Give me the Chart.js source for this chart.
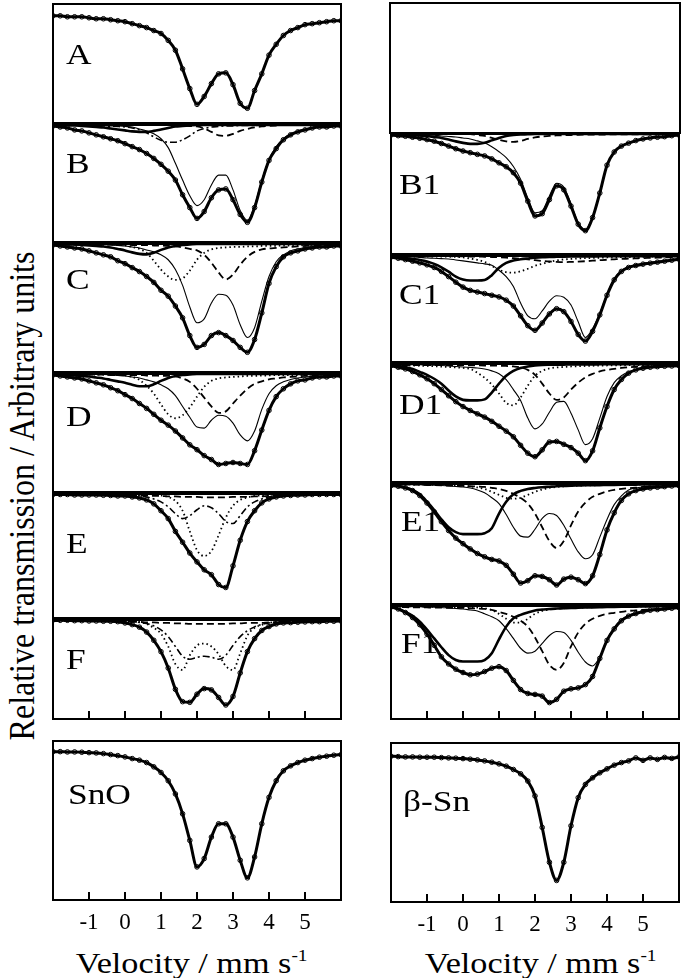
<!DOCTYPE html>
<html>
<head>
<meta charset="utf-8">
<title>Mossbauer spectra</title>
<script src="https://cdn.jsdelivr.net/npm/chart.js@4.4.1/dist/chart.umd.min.js"></script>
<style>
  html, body { margin: 0; padding: 0; background: #fff; }
  body { position: relative; width: 685px; height: 978px; overflow: hidden; font-family: "Liberation Serif", "Times New Roman", serif; color: #000; }
  canvas { position: absolute; }
  .ytitle { position: absolute; left: 22px; top: 496px; white-space: nowrap; font-size: 32px; line-height: 1; transform: translate(-50%, -50%) rotate(-90deg) scaleY(1.12); }
  .xtitle { position: absolute; top: 941px; width: 300px; text-align: center; white-space: nowrap; font-size: 30px; line-height: 30px; }
  .xtitle span { display: inline-block; transform: scaleX(1.14); }
  .xtitle sup { font-size: 17px; vertical-align: 12px; }
</style>
</head>
<body>
<div class="ytitle">Relative transmission / Arbitrary units</div>
<div class="xtitle" style="left:42px"><span>Velocity / mm s<sup>-1</sup></span></div>
<div class="xtitle" style="left:391px"><span>Velocity / mm s<sup>-1</sup></span></div>
<script>
// velocity grid, mm/s
const velocity = [-2.0,-1.8,-1.6,-1.4,-1.2,-1.0,-0.8,-0.6,-0.4,-0.2,0.0,0.2,0.4,0.6,0.8,1.0,1.2,1.4,1.6,1.8,2.0,2.2,2.4,2.6,2.8,3.0,3.2,3.4,3.6,3.8,4.0,4.2,4.4,4.6,4.8,5.0,5.2,5.4,5.6,5.8,6.0];
const tickValues = [-1, 0, 1, 2, 3, 4, 5];

// absorption (arbitrary units, 0 = baseline)
const A_total = [12,12,13,13,13,14,15,15,16,17,18,20,22,24,27,30,37,47,66,86,102,94,81,71,70,82,101,106,88,71,52,41,32,27,24,21,20,19,18,17,17];

const B_total = [1,2,3,5,6,8,10,12,14,16,19,22,25,29,34,40,47,56,71,84,95,88,74,66,65,76,91,99,84,58,36,24,15,10,7,5,3,2,2,1,1];
const B_thin = [0,0,0,0,0,0.5,0.5,0.5,1,1,1.5,2,4,6,9,14,23,39,56,72,82,76,61,51,51,66,87,97,82,56,35,22,14,9,6,4,3,2,1.5,1,1];
const B_bold = [0,0,0.5,0.5,1,1.5,2,2.5,3.5,4.5,5.5,6.5,7,7,6,4.5,3,1.5,1,0.5,0,0,0,0,0,0,0,0,0,0,0,0,0,0,0,0,0,0,0,0,0];
const B_dashdot = [0,0,0.3,0.3,0.5,0.5,0.7,1,1.2,1.5,2,3,5,8,12,15.5,17.5,17.5,15,11,6,3.5,2,1.5,1,1,0.5,0.5,0.5,0,0,0,0,0,0,0,0,0,0,0,0];
const B_dashed = [0,0,0,0,0,0,0,0,0,0,0,0,0,0,0,0,0,0,0.5,1,1.5,3.5,7,10.5,11,9,6,4,2.5,1.5,1,0.5,0,0,0,0,0,0,0,0,0];

const C_total = [1,2,3,4,5,7,9,11,13,17,20,24,28,33,39,47,53,63,75,93,105,102,93,90,93,98,105,110,97,70,40,23,13,9,7,5,4,3,3,2,2];
const C_thin = [0,0,0,0,0,0.5,0.5,0.5,1,1.5,2,3,4,6,8,11,16,26,42,64,80,76,60,51,52,62,82,95,85,58,33,18,11,7,5,3.5,2.5,2,1.5,1,1];
const C_bold = [0,0,0.5,0.5,1,1.5,2,2.5,3.5,5,6.5,8.5,10,10.5,9,6,3.5,2,1,0.5,0,0,0,0,0,0,0,0,0,0,0,0,0,0,0,0,0,0,0,0,0];
const C_dotted = [0.5,0.5,0.5,0.5,0.5,0.5,0.5,0.5,0.5,1,1.5,3,5,9,17,26,33,36.5,35,27,16,9,5.5,4,3.5,3,3,2.5,2.5,2,2,2,1.5,1.5,1.5,1,1,1,0.5,0.5,0.5];
const C_dashed = [0.5,0.5,0.5,0.5,0.5,0.5,0.5,0.5,0.5,0.5,0.5,1,1,1,1.5,1.5,2,2.5,3.5,5,6.5,11,19,29,36,31,21,13,8,5.5,4.5,4,3.5,3,2.5,2,2,1.5,1.5,1,1];

const D_total = [1,2,3,4,5,7,9,11,14,17,21,25,30,35,41,47,52,58,65,72,77,83,87,92,91,90,91,92,78,57,37,23,15,10,7,6,4,3,3,2,2];
const D_thin = [0,0,0,0,0.5,0.5,0.5,0.5,1,1.5,2,3,4,6,8,11,15,22,33,44,54,55,47,42,43,50,62,68,58,36,20,12,8,5.5,4,3,2.5,2,1.5,1,1];
const D_bold = [0.5,0.5,1,1.5,2,2.5,3.5,4.5,6,7.5,9,11,12.5,12.5,10.5,7,4,2,1,0.5,0,0,0,0,0,0,0,0,0,0,0,0,0,0,0,0,0,0,0,0,0];
const D_dotted = [0.5,0.5,0.5,0.5,0.5,0.5,0.5,0.5,0.5,1,1.5,3,6,12,20,31,41,45,42,34,23,13,7,4.5,3.5,3,2.5,2,2,1.5,1.5,1,1,1,1,0.5,0.5,0.5,0.5,0.5,0.5];
const D_dashed = [0.5,0.5,0.5,0.5,0.5,0.5,0.5,0.5,1,1,1,1,1,1.5,1.5,2,2,2.5,4.5,8,15,24,33,39.5,38,30,22,15,10,7.5,5.5,4.5,3.5,3,2.5,2,2,1.5,1.5,1,1];

const E_total = [0.5,0.5,0.5,1,1,1,1,1.3,1.5,2,2,3,4,6,10,17,25,38,49,60,69,77,82,92,95,73,47,28,17,9,5,3,2,1.5,1,1,0.5,0.5,0.5,0.5,0.5];
const E_dashdot = [0.5,0.5,0.5,0.5,0.5,0.5,0.5,0.5,0.5,0.5,0.5,1,2,3,5,8,13,20,25,22,16,12,14,20,28,30,22,13,8,5,3,2,1.5,1,1,0.8,0.5,0.5,0.5,0.3,0.3];
const E_dotted = [0,0,0,0,0,0,0,0,0,0,0,0,0,0,1,1.5,3,7,17,38,57,63,58,42,24,12,6,3.5,2,1.5,1,0.5,0.5,0,0,0,0,0,0,0,0];
const E_dashed = [1,1,1,1,1,1,1,1,1,1,1,1.5,1.5,1.5,2,2,2.5,2.5,3,3,3,3.5,3.5,3.5,3.5,3,3,3,2.5,2.5,2,2,2,1.5,1.5,1,1,1,1,0.5,0.5];

const F_total = [0,0.3,0.3,0.7,0.7,1,1,1.3,1.3,1.7,3,4.7,7.3,12.3,20.7,32.3,49,70.7,83.3,84,75.7,70,71.3,79,86.7,78,54,32.3,19,10.7,6.7,4,3,2.7,2.3,2,1.7,1.7,1.3,1.3,1];
const F_dotted = [0.5,0.5,0.5,0.5,0.5,0.5,0.5,0.5,0.5,0.5,0.5,1,2,4,8,14,27,45,51,36,26,24,27,35,47,51,34,16,8,5,3,2,1.5,1,1,0.7,0.5,0.5,0.3,0.3,0.3];
const F_dashdot = [0.5,0.5,0.5,0.5,0.5,0.5,0.5,0.5,0.5,0.5,1,1.5,2.5,3.5,6,10,17,27,37,40,38,37,38,40,36,26,17,11,7,4.5,3,2,1.5,1,1,0.7,0.5,0.5,0.5,0.3,0.3];
const F_dashed = [1,1,1,1,1,1,1.5,1.5,1.5,1.5,2,2,2,2.5,2.5,3,3,3.5,3.5,4,4,4,4,4,4,3.5,3.5,3,3,3,2.5,2.5,2,2,2,1.5,1.5,1.5,1,1,1];

const B1_total = [1,1.7,2.3,3.3,4.3,5.7,7.3,9.7,12.3,15,17.3,19,20.7,22.3,25.3,29.3,33.3,39.3,50,68.3,83.3,81,66.7,52.7,56.7,73.3,91.7,98.3,85,60,31.7,18.3,12.3,9.3,6.7,5,4,3.3,2.7,1.7,1];
const B1_thin = [0,0.3,0.5,0.7,0.8,1,1.3,2,2.5,3,4,5,7,9,13,18,24,33,46,65,80,78,63,50,54,71,90,97,84,59,31,18,12,9,6.5,5,4,3,2,1.5,1];
const B1_bold = [0.5,0.7,1,1,1.5,2,3,4,5.5,7.5,9,10,10,9,6.5,4,2,1,0.5,0.3,0,0,0,0,0,0,0,0,0,0,0,0,0,0,0,0,0,0,0,0,0];
const B1_dashed = [0,0,0,0,0,0,0,0,0,0,0,0,1,2,4,6,7.5,8,7,5,3.5,2.5,2,1.5,1.2,1,0.8,0.7,0.6,0.5,0.5,0.3,0.3,0.3,0.3,0.3,0.3,0.3,0.3,0.3,0.3];

const C1_total = [1,2.3,3.7,5.3,7,9,11.7,15.7,21,26.7,31.7,35,36.7,38.3,40,41.7,45,51,61,71,75.7,68.3,59,53.7,56.7,66.7,80,86.7,76.7,60,40,24.3,15.7,11.7,9.7,8.3,7.3,6.3,5.3,4.3,3.3];
const C1_thin = [0.5,0.7,0.8,1,1.5,2,2.3,2.7,3,4,5,6,7,8,9.5,14.5,21,31,48,61,64,56,46,40.5,42,50,67,83,74,58,39,23,15,11,9,7.5,6.5,5.5,4.5,3.5,2.8];
const C1_bold = [1,1.5,2,3,4,5.5,8,11.5,16,21,24,25,25,24.5,19.5,12,7,4.5,3.3,2.5,1.8,1.3,1,0.8,0.6,0.5,0.5,0.4,0.4,0.3,0.3,0.3,0.3,0.3,0.3,0.3,0.3,0.3,0.3,0.3,0.3];
const C1_dotted = [0.3,0.3,0.3,0.5,0.5,0.5,0.5,0.7,0.7,1,1.5,2.5,4,6,10,14,16.5,17,15.5,13,10,8,6,4.5,3.5,3,2.5,2.2,2,1.8,1.5,1.3,1.2,1,1,0.8,0.7,0.6,0.5,0.5,0.4];
const C1_dashed = [0,0,0,0,0,0,0,0,0.2,0.3,0.4,0.5,0.6,0.8,1,1.3,1.7,2.2,2.8,3.5,4.3,5,5.6,6,6.2,6,5.7,5.3,4.8,4.3,3.8,3.4,3,2.7,2.4,2.1,1.9,1.7,1.5,1.3,1.2];

const D1_total = [1.7,3.3,5,7.7,11,15,20,26,32.3,38.3,43.3,47.3,50.7,54,58.3,63.3,68.3,74,82.7,90.7,94.3,87.3,79.3,78.7,81.7,85,90.7,98.3,88.3,65,43.3,26,15.7,9.3,6,4.3,3.3,2.7,2.3,2,1.7];
const D1_bold = [1,2,3,5,8,11,15,20,27,33,36.5,37,37,36,29,20,12,7,4,2.5,1.5,1,0.8,0.7,0.6,0.5,0.5,0.4,0.4,0.3,0.3,0.3,0.3,0.3,0.3,0.3,0.3,0.3,0.3,0.3,0.3];
const D1_thin = [0.5,0.5,0.6,0.7,0.8,1,1.2,1.5,2,2.5,3,3.5,4,5,7,10,16,26,37,55,66,61,49,39,38,50,67,82,76,55,33,19,12,8,5.5,4,3,2.5,2,1.5,1.5];
const D1_dotted = [1,1.2,1.4,1.6,1.8,2,2.3,2.6,3,3.5,4,5,9,14,21,30,39.5,42,34,22,12,7,4.5,3.5,3,2.5,2.2,2,1.8,1.6,1.5,1.4,1.3,1.2,1.1,1,0.9,0.8,0.7,0.6,0.5];
const D1_dashed = [1,1,1,1,1,1,1,1.1,1.1,1.2,1.2,1.3,1.4,1.5,1.5,1.7,2,2.5,3.5,6,11,20,30,36.5,34,26,19,13.5,10,7.5,6,5,4,3.3,2.8,2.4,2,1.8,1.5,1.3,1.2];

const E1_total = [1.7,2.3,4,6.7,11.7,19.3,28.3,38.3,47.3,55,60.7,66,70.7,74,76.7,78.3,82.7,91.7,100.7,98.3,93.3,94,97.3,102.7,96.7,94.7,97.3,101.3,93.3,71.7,46.7,29.3,16.7,10,6.7,5,4,3.3,2.7,2,1.7];
const E1_bold = [1,2,3.5,6,10.5,18,26.5,36,44,49,51,51,51,50,45,30,18,10.5,7,5,4,3.3,2.8,2.3,2,1.7,1.5,1.3,1.2,1.1,1,0.9,0.8,0.7,0.6,0.5,0.4,0.3,0.3,0.2,0.2];
const E1_thin = [0.3,0.4,0.5,0.6,0.8,1,1.2,1.5,2,2.5,3,4,6,9,14,20,31,44,53,54,46,35,30,32,42,56,69,76,72,54,36,21,12,6,4,3,2.5,2,1.5,1.2,1];
const E1_dotted = [0.5,0.5,0.5,0.5,0.6,0.7,0.8,1,1.2,1.5,2,2.5,3.5,5,8,11,14,15,14,11,8,5.5,4,3,2.5,2,1.7,1.5,1.3,1.2,1,0.9,0.8,0.7,0.6,0.5,0.5,0.4,0.4,0.3,0.3];
const E1_dashed = [0.3,0.4,0.5,0.6,0.7,1,1.2,1.4,1.6,1.8,2,2.3,2.6,3,4,5,7,10,14,20,30,44,58,65,58,42,28,19,13,10,7.5,6,5,4.3,3.7,3,2.7,2.3,2,1.7,1.5];

const F1_total = [1,3,6.7,11.7,19,28.3,40,51.7,59,64.3,67.7,70,69.3,66.7,63.3,61.7,65.7,75.7,85,89,90,91.7,98.3,95,86.7,84.3,83.3,80,71.7,53.3,35,23.3,15,10.3,7.7,5.7,4.3,3.7,3,2.3,1.7];
const F1_bold = [1,3,6,10,16,24,33,42,50,55,56.5,56.5,56.5,55,48,34,21,12.5,9,6.5,4.5,3.7,3,2.6,2.3,2,1.8,1.6,1.4,1.2,1,0.9,0.8,0.7,0.6,0.5,0.4,0.3,0.2,0.1,0];
const F1_thin = [0.3,0.4,0.5,0.6,0.8,1,1.2,1.5,2,2.5,3,4,5,8,11,15,23,33,43,48,46,38,30,26,27,35,47,57,61,52,34,22,14,10,7,5,4,3,2.2,1.8,1.5];
const F1_dotted = [0.5,0.5,0.5,0.5,0.6,0.7,0.8,0.9,1,1.1,1.2,1.4,1.7,2.2,4,8,13,17,17,13,8,5,3.5,2.8,2.3,2,1.8,1.5,1.3,1.1,1,0.9,0.8,0.7,0.6,0.5,0.5,0.4,0.4,0.3,0.3];
const F1_dashed = [1,1,1.2,1.3,1.4,1.5,1.6,1.7,1.8,1.9,2,2.3,2.6,3,4,6,8,11,15,21,32,46,60,65,58,41,27,18,13,10,8,7,6,5,4.5,4,3.5,3,2.5,2.2,2];

const SnO_total = [10.7,10.7,11,11,11.3,11.7,12,12.7,13.7,14.7,16,17.7,19.3,21.7,26,31.7,40,53.3,73.3,100,126.7,118.3,96.7,83.3,83.3,96.7,120,137.7,116.7,83.3,56.7,40,30,25,21.7,19.3,17.7,16.3,15.3,14.3,13.7];
const BetaSn_total = [13.3,13.7,14,14,14.3,14.3,14.3,14.7,15,15.3,15.7,16.3,17,18,19.3,21,23.3,26.7,31,38.3,53.3,85,120,138.3,120,83.3,55,41.7,35,30,26,22.3,19.7,18,15,17.5,15,16.5,14.5,15.5,14];

const styles = {
    data:    { borderWidth: 3, pointRadius: 2.3, pointBorderWidth: 1, pointBackgroundColor: 'rgba(255,255,255,0)', pointBorderColor: '#000' },
    thin:    { borderWidth: 1.1 },
    bold:    { borderWidth: 2.6 },
    dotted:  { borderWidth: 1.8, borderDash: [1.5, 3] },
    dashed:  { borderWidth: 1.8, borderDash: [7, 4] },
    dashdot: { borderWidth: 1.6, borderDash: [7, 3, 2, 3] }
};

// frame layout (px) and what goes in each panel
const panels = [
    { x: 52, y: 3,   w: 290, h: 121, label: 'A',  lx: 13, ly: 60, series: [[A_total, 'data']] },
    { x: 52, y: 124, w: 290, h: 119, label: 'B',  lx: 13, ly: 48, series: [[B_total, 'data'], [B_thin, 'thin'], [B_bold, 'bold'], [B_dashdot, 'dashdot'], [B_dashed, 'dashed']] },
    { x: 52, y: 243, w: 290, h: 130, label: 'C',  lx: 13, ly: 45, series: [[C_total, 'data'], [C_thin, 'thin'], [C_bold, 'bold'], [C_dotted, 'dotted'], [C_dashed, 'dashed']] },
    { x: 52, y: 373, w: 290, h: 120, label: 'D',  lx: 13, ly: 52, series: [[D_total, 'data'], [D_thin, 'thin'], [D_bold, 'bold'], [D_dotted, 'dotted'], [D_dashed, 'dashed']] },
    { x: 52, y: 493, w: 290, h: 126, label: 'E',  lx: 13, ly: 59, series: [[E_total, 'data'], [E_dashdot, 'dashdot'], [E_dotted, 'dotted'], [E_dashed, 'dashed']] },
    { x: 52, y: 619, w: 290, h: 101, label: 'F',  lx: 13, ly: 49, ticks: true, series: [[F_total, 'data'], [F_dotted, 'dotted'], [F_dashdot, 'dashdot'], [F_dashed, 'dashed']] },
    { x: 52, y: 740, w: 290, h: 160, label: 'SnO', lx: 15, ly: 63, ticks: true, tickLabels: true, series: [[SnO_total, 'data']] },
    { x: 390, y: 3,   w: 290, h: 130, series: [] },
    { x: 390, y: 133, w: 290, h: 122, label: 'B1', lx: 8,  ly: 60, series: [[B1_total, 'data'], [B1_thin, 'thin'], [B1_bold, 'bold'], [B1_dashed, 'dashed']] },
    { x: 390, y: 255, w: 290, h: 108, label: 'C1', lx: 8,  ly: 48, series: [[C1_total, 'data'], [C1_thin, 'thin'], [C1_bold, 'bold'], [C1_dotted, 'dotted'], [C1_dashed, 'dashed']] },
    { x: 390, y: 363, w: 290, h: 120, label: 'D1', lx: 8,  ly: 50, series: [[D1_total, 'data'], [D1_thin, 'thin'], [D1_bold, 'bold'], [D1_dotted, 'dotted'], [D1_dashed, 'dashed']] },
    { x: 390, y: 483, w: 290, h: 122, label: 'E1', lx: 10, ly: 47, series: [[E1_total, 'data'], [E1_thin, 'thin'], [E1_bold, 'bold'], [E1_dotted, 'dotted'], [E1_dashed, 'dashed']] },
    { x: 390, y: 605, w: 290, h: 115, label: 'F1', lx: 10, ly: 47, ticks: true, series: [[F1_total, 'data'], [F1_thin, 'thin'], [F1_bold, 'bold'], [F1_dotted, 'dotted'], [F1_dashed, 'dashed']] },
    { x: 390, y: 742, w: 290, h: 160, label: '\u03b2-Sn', lx: 12, ly: 68, ticks: true, tickLabels: true, series: [[BetaSn_total, 'data']] }
];

const M = 4;        // canvas margin round each frame
const AXIS_H = 38;  // room for tick labels under the bottom panels

function decoPlugin(p) {
    return {
        id: 'deco',
        afterDatasetsDraw(chart) {
            const { ctx, chartArea: a, scales } = chart;
            ctx.save();
            ctx.strokeStyle = '#000';
            ctx.lineWidth = 2;
            ctx.setLineDash([]);
            ctx.strokeRect(a.left, a.top, a.right - a.left, a.bottom - a.top);
            if (p.ticks) {
                tickValues.forEach(v => {
                    const x = scales.x.getPixelForValue(v);
                    ctx.beginPath();
                    ctx.moveTo(x, a.bottom);
                    ctx.lineTo(x, a.bottom - 8);
                    ctx.stroke();
                });
            }
            if (p.label) {
                ctx.fillStyle = '#000';
                ctx.font = '29px "Liberation Serif", serif';
                ctx.translate(a.left + p.lx, a.top + p.ly);
                ctx.scale(1.22, 1);
                ctx.fillText(p.label, 0, 0);
            }
            ctx.restore();
        }
    };
}

panels.forEach(p => {
    const cv = document.createElement('canvas');
    const w = p.w + 2 * M;
    const h = p.tickLabels ? p.h + M + AXIS_H : p.h + 2 * M;
    cv.width = w;
    cv.height = h;
    cv.style.left = (p.x - M) + 'px';
    cv.style.top = (p.y - M) + 'px';
    document.body.appendChild(cv);

    const datasets = p.series.map(([vals, kind]) => Object.assign({
        data: velocity.map((v, i) => ({ x: v, y: vals[i] })),
        borderColor: '#000',
        backgroundColor: '#000',
        fill: false,
        pointRadius: 0,
        cubicInterpolationMode: 'monotone',
        borderDash: []
    }, styles[kind]));

    const xScale = {
        type: 'linear', min: -2, max: 6,
        display: !!p.tickLabels,
        grid: { display: false, drawTicks: false },
        border: { display: false },
        afterBuildTicks: s => { s.ticks = tickValues.map(v => ({ value: v })); },
        ticks: { color: '#000', padding: 9, autoSkip: false, maxRotation: 0,
                 font: { family: 'Liberation Serif', size: 23 } }
    };
    if (p.tickLabels) xScale.afterFit = s => { s.height = AXIS_H; };

    new Chart(cv.getContext('2d'), {
        type: 'line',
        data: { datasets: datasets },
        options: {
            responsive: false,
            animation: false,
            events: [],
            layout: { padding: { left: M, right: M, top: M, bottom: p.tickLabels ? 0 : M } },
            plugins: { legend: { display: false }, tooltip: { enabled: false } },
            scales: {
                x: xScale,
                y: { type: 'linear', min: 0, max: p.h, reverse: true, display: false }
            }
        },
        plugins: [decoPlugin(p)]
    });
});
</script>
</body>
</html>
